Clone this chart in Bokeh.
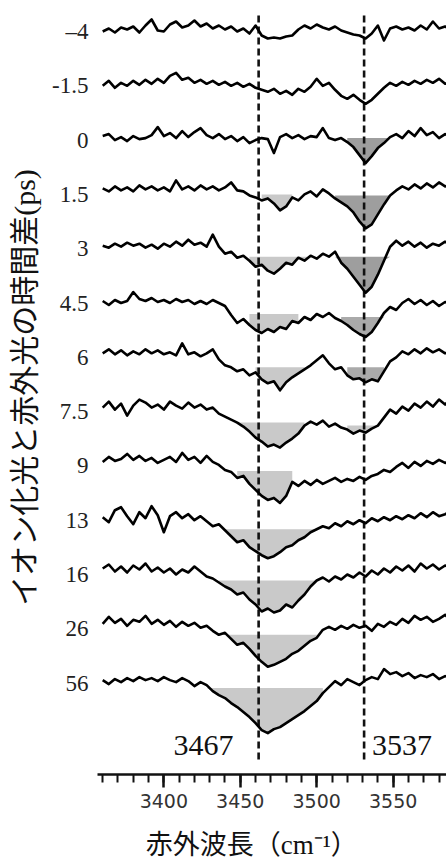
from bokeh.plotting import figure
from bokeh.models import Range1d, FixedTicker, SingleIntervalTicker, Label
from bokeh.embed import file_html
from bokeh.resources import INLINE

# ---------------- data ----------------
delays = ["\u20134", "-1.5", "0", "1.5", "3", "4.5", "6", "7.5", "9", "13", "16", "26", "56"]
wavenumber = list(range(3360, 3589, 4))  # cm^-1

# signal change (arb. units, up = positive) for each delay
tr_m4 = [0,3,-1,4,2,5,-1,6,12,1, 0,7,10,4,6,11,5,8,3,6, 2,5,0,3,-2,6,-4,-7,-6,-7,
         -5,-4,2,6,3,7,4,2,5,1, -1,-3,-4,-7,-2,6,-9,3,5,2, 4,1,6,2,10,3,5,2]
tr_m15 = [0,5,-2,3,0,5,1,6,2,7, 3,10,13,6,8,3,6,2,5,1, 4,0,3,-1,2,-2,-4,-6,-3,-8,
          -5,-9,-3,-6,-1,7,0,3,-4,-10, -13,-9,-14,-18,-14,-8,-2,3,0,4, 1,5,2,6,3,7,2,4]
tr_0 = [4,6,0,3,-1,4,1,2,5,13, 4,7,2,9,3,8,12,5,2,6, 1,4,-1,3,-3,0,2,1,-13,3,
        6,2,5,1,4,3,12,2,0,2, -2,-7,-15,-23,-16,-8,-3,3,6,2, 9,4,12,5,8,2,6,3]
tr_15 = [6,3,8,4,7,3,9,5,8,4, 7,3,14,5,8,4,9,5,8,4, 7,12,4,3,-1,-3,-6,-4,-9,-16,
         -12,-3,-6,0,3,-2,5,1,-4,-8, -12,-18,-27,-34,-30,-20,-10,-1,4,8, 5,10,6,11,7,12,8,10]
tr_3 = [3,1,5,2,6,3,5,1,4,0, 5,2,7,3,9,4,6,2,14,2, -5,-3,-9,-7,-12,-18,-16,-22,-25,-20,
        -14,-16,-9,-12,-7,-10,-5,-8,-3,-14, -20,-28,-36,-44,-38,-26,-12,2,8,3, 7,2,6,1,5,3,7,4]
tr_45 = [2,-2,3,0,2,11,4,2,5,1, 3,0,4,1,3,-1,2,-1,3,0, -3,-12,-20,-16,-22,-27,-30,-26,-29,-24,
         -26,-18,-20,-14,-17,-11,-14,-10,-15,-18, -22,-27,-31,-34,-29,-20,-10,-4,-7,0, 4,-1,3,-2,2,-3,1,-1]
tr_6 = [4,8,3,7,2,6,3,8,4,7, 3,5,2,14,3,5,1,4,8,-2, -8,-10,-14,-12,-18,-15,-22,-26,-24,-33,
        -25,-20,-16,-12,-8,-3,2,-6,-12,-10, -18,-22,-21,-25,-22,-24,-14,-4,0,6, 3,8,4,9,5,8,4,6]
tr_75 = [4,10,2,8,-4,6,12,9,4,7, 2,10,6,3,9,4,7,2,4,-2, -5,-8,-11,-15,-20,-26,-30,-35,-33,-36,
         -31,-27,-22,-14,-10,-13,-9,-15,-12,-16, -18,-22,-19,-21,-17,-14,-6,2,-2,5, 1,8,4,10,5,12,7,14]
tr_9 = [4,9,5,7,12,6,10,5,8,3, 6,9,4,13,6,9,3,10,4,1, -4,-6,-12,-10,-18,-24,-30,-34,-32,-37,
        -30,-16,-20,-15,-19,-14,-18,-15,-12,-16, -13,-15,-11,-14,-10,-8,-4,-6,-1,3, -2,4,0,5,2,6,3,5]
tr_13 = [3,-2,10,13,4,-4,8,2,14,5, -12,4,8,2,6,0,4,-1,-6,-4, -10,-16,-22,-20,-27,-31,-35,-38,-36,-32,
         -27,-25,-20,-17,-12,-9,-6,-8,-3,-6, -1,-4,0,-3,2,-1,3,0,4,1, 5,2,7,3,8,4,6,9]
tr_16 = [6,10,3,8,2,9,5,11,3,7, 2,6,0,5,2,8,3,-2,-4,-8, -12,-15,-20,-18,-25,-30,-37,-34,-38,-36,
         -30,-33,-26,-20,-12,-6,-3,-7,-2,-5, 0,-3,2,-2,4,0,6,2,8,4, 9,3,11,6,10,5,9,7]
tr_26 = [5,12,6,10,3,9,7,13,5,9, 4,8,2,7,3,6,1,3,-2,-6, -4,-10,-16,-14,-20,-27,-33,-38,-36,-33,
         -30,-25,-22,-17,-12,-9,-1,2,-1,3, 0,4,1,3,-2,5,2,7,4,10, 6,13,9,12,7,10,14,8]
tr_56 = [3,-1,4,1,5,2,6,3,5,2, 6,3,1,5,2,-3,1,-2,-8,-12, -15,-20,-24,-29,-34,-40,-47,-50,-46,-44,
         -40,-36,-32,-28,-23,-18,-10,-4,2,-2, 4,1,-2,3,6,4,14,9,11,7, 10,5,8,6,9,4,7,5]
traces = [tr_m4, tr_m15, tr_0, tr_15, tr_3, tr_45, tr_6, tr_75, tr_9, tr_13, tr_16, tr_26, tr_56]

# absorption bands (shaded): row index, start, end (cm^-1), top level, shade
band_row   = [2,    3,    3,    4,    4,    5,    5,    6,    6,    7,    7,    8,    9,    10,   11,   12]
band_start = [3519, 3463, 3510, 3456, 3511, 3453, 3516, 3459, 3518, 3447, 3518, 3448, 3437, 3433, 3431, 3426]
band_end   = [3551, 3487, 3548, 3512, 3552, 3490, 3546, 3492, 3546, 3494, 3546, 3484, 3502, 3500, 3502, 3506]
band_level = [2,    0,    -1,   -8,   -8,   -11,  -14,  -10,  -10,  -11,  -14,  -5,   -9,   -6,   -6,   -5]
band_shade = ["dark","light","dark","light","dark","light","medium","light","medium","light","light",
              "light","light","light","light","light"]

peak_positions = [3462, 3531]
peak_labels = ["3467", "3537"]

x_title = "赤外波長（cm⁻¹）"
y_title = "イオン化光と赤外光の時間差(ps)"

# ---------------- layout constants ----------------
ROW_PX = 54.3
S = 1.0 / ROW_PX
shade_color = {"light": "#c9c9c9", "medium": "#aaaaaa", "dark": "#9e9e9e"}
CJK = "Liberation Serif, Noto Sans CJK JP"

p = figure(width=446, height=863, output_backend="svg", toolbar_location=None,
           x_range=Range1d(3356.6, 3584.9), y_range=Range1d(-13.683, 0.5709),
           min_border_left=97, min_border_right=0, min_border_top=0, min_border_bottom=89)
p.xgrid.visible = False
p.ygrid.visible = False
p.outline_line_color = None
p.background_fill_color = "white"

# bands
for r, a, b, lev, sh in zip(band_row, band_start, band_end, band_level, band_shade):
    xs = [w for w in wavenumber if a <= w <= b]
    vals = [traces[r][i] for i, w in enumerate(wavenumber) if a <= w <= b]
    off = -r
    y1 = [off + min(v, lev) * S for v in vals]
    y2 = [off + lev * S for _ in vals]
    p.varea(x=xs, y1=y1, y2=y2, fill_color=shade_color[sh], fill_alpha=1.0)

# dashed marker lines
p.segment(x0=peak_positions, x1=peak_positions,
          y0=[0.295] * len(peak_positions), y1=[-13.46] * len(peak_positions),
          line_color="#111111", line_width=2.6, line_dash="7 4")

# traces
for r, tr in enumerate(traces):
    p.line(wavenumber, [-r + v * S for v in tr], line_color="black", line_width=2.6, line_join="round")

# peak labels
for pos, txt, off, al in zip(peak_positions, peak_labels, [-25, 8], ["right", "left"]):
    p.add_layout(Label(x=pos, y=-13.149, x_offset=off, text=txt, text_align=al, text_baseline="middle",
                       text_font="Liberation Serif", text_font_size="30px", text_color="#111111"))

# x axis
xa = p.xaxis[0]
xa.ticker = SingleIntervalTicker(interval=50, num_minor_ticks=5)
xa.axis_line_width = 2.5
xa.axis_line_color = "#111111"
xa.major_tick_line_width = 2.5
xa.minor_tick_line_width = 2
xa.major_tick_line_color = "#111111"
xa.minor_tick_line_color = "#111111"
xa.major_tick_out = 13
xa.major_tick_in = 0
xa.minor_tick_out = 8
xa.minor_tick_in = 0
xa.major_label_text_font = "DejaVu Sans"
xa.major_label_text_font_size = "19px"
xa.major_label_text_color = "#333333"
xa.major_label_standoff = 6
xa.axis_label = x_title + "\u3000\u3000"
xa.axis_label_text_font = CJK
xa.axis_label_text_font_size = "27px"
xa.axis_label_text_font_style = "normal"
xa.axis_label_text_color = "#111111"
xa.axis_label_text_line_height = 1.0
xa.axis_label_standoff = 19

# y axis with delay labels
ya = p.yaxis[0]
ya.ticker = FixedTicker(ticks=[-i for i in range(len(delays))])
ya.major_label_overrides = {-i: d for i, d in enumerate(delays)}
ya.axis_line_color = None
ya.major_tick_line_color = None
ya.minor_tick_line_color = None
ya.major_tick_out = 0
ya.major_tick_in = 0
ya.major_label_standoff = 9
ya.major_label_text_font = "Liberation Serif"
ya.major_label_text_font_size = "23px"
ya.major_label_text_color = "#222222"
ya.axis_label = y_title
ya.axis_label_text_font = CJK
ya.axis_label_text_font_size = "30px"
ya.axis_label_text_font_style = "normal"
ya.axis_label_text_color = "#111111"
ya.axis_label_standoff = 8

open("out.html", "w").write(file_html(p, INLINE))
